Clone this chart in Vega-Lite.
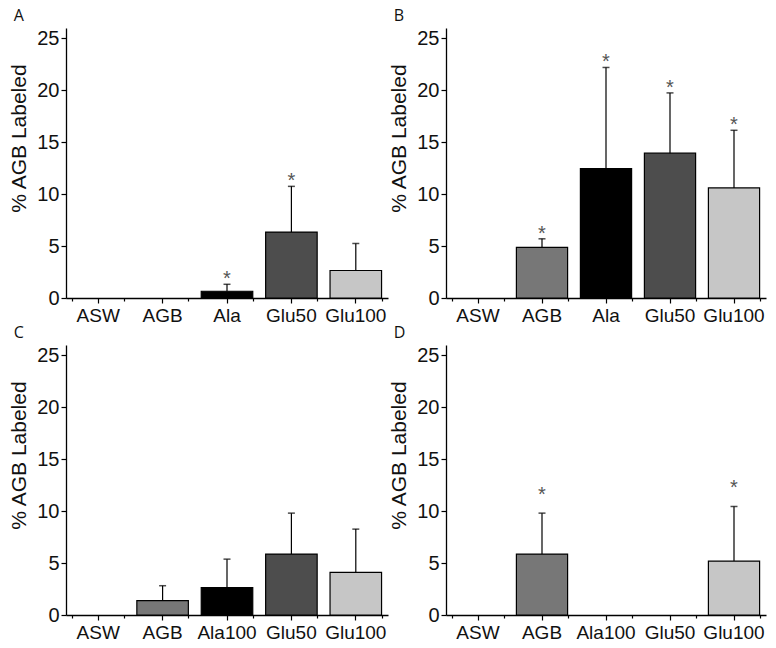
{
  "$schema": "https://vega.github.io/schema/vega-lite/v6.json",
  "background": "white",
  "padding": {"left": 8, "top": 8, "right": 4, "bottom": 2},
  "spacing": 0,
  "config": {
    "view": {"stroke": null},
    "font": "Liberation Sans",
    "axis": {"domainColor": "#000", "domainWidth": 1.3, "tickColor": "#000", "tickWidth": 1.2, "labelColor": "#111", "titleColor": "#111", "labelFont": "Liberation Sans", "titleFont": "Liberation Sans", "grid": false},
    "title": {"font": "Open Sans", "fontSize": 16, "fontWeight": "normal", "color": "#111", "anchor": "start", "frame": "bounds", "dx": 5}
  },
  "datasets": {
    "d": [
      {"panel": "A", "cond": "ASW", "value": 0, "err": null, "sig": false},
      {"panel": "A", "cond": "AGB", "value": 0, "err": null, "sig": false},
      {"panel": "A", "cond": "Ala", "value": 0.65, "err": 1.32, "sig": true},
      {"panel": "A", "cond": "Glu50", "value": 6.35, "err": 10.75, "sig": true},
      {"panel": "A", "cond": "Glu100", "value": 2.65, "err": 5.25, "sig": false},
      {"panel": "B", "cond": "ASW", "value": 0, "err": null, "sig": false},
      {"panel": "B", "cond": "AGB", "value": 4.87, "err": 5.7, "sig": true},
      {"panel": "B", "cond": "Ala", "value": 12.45, "err": 22.2, "sig": true},
      {"panel": "B", "cond": "Glu50", "value": 13.95, "err": 19.75, "sig": true},
      {"panel": "B", "cond": "Glu100", "value": 10.6, "err": 16.15, "sig": true},
      {"panel": "C", "cond": "ASW", "value": 0, "err": null, "sig": false},
      {"panel": "C", "cond": "AGB", "value": 1.38, "err": 2.82, "sig": false},
      {"panel": "C", "cond": "Ala100", "value": 2.63, "err": 5.38, "sig": false},
      {"panel": "C", "cond": "Glu50", "value": 5.87, "err": 9.81, "sig": false},
      {"panel": "C", "cond": "Glu100", "value": 4.1, "err": 8.27, "sig": false},
      {"panel": "D", "cond": "ASW", "value": 0, "err": null, "sig": false},
      {"panel": "D", "cond": "AGB", "value": 5.87, "err": 9.81, "sig": true},
      {"panel": "D", "cond": "Ala100", "value": 0, "err": null, "sig": false},
      {"panel": "D", "cond": "Glu50", "value": 0, "err": null, "sig": false},
      {"panel": "D", "cond": "Glu100", "value": 5.19, "err": 10.45, "sig": true}
    ]
  },
  "data": {"name": "d"},
  "resolve": {"scale": {"x": "independent"}},
  "vconcat": [
    {
      "spacing": 0,
      "resolve": {"scale": {"x": "independent"}},
      "hconcat": [
        {
          "width": 322, "height": 270,
          "title": {"text": "A"},
          "transform": [{"filter": "datum.panel === 'A'"}],
          "resolve": {"axis": {"x": "independent"}},
          "layer": [
            {"transform": [{"filter": "datum.value > 0"}],
             "mark": {"type": "bar", "stroke": "#000", "strokeWidth": 1.2},
             "encoding": {
               "x": {"field": "cond", "type": "nominal", "sort": null, "title": null,
                 "scale": {"domain": ["ASW", "AGB", "Ala", "Glu50", "Glu100"], "paddingInner": 0.2, "paddingOuter": 0.1},
                 "axis": {"orient": "bottom", "labelAngle": 0, "labelFontSize": 19, "tickSize": 5, "labelPadding": 3}},
               "y": {"field": "value", "type": "quantitative", "scale": {"domain": [0, 25]},
               "title": "% AGB Labeled",
               "axis": {"values": [0, 2.5, 5, 7.5, 10, 12.5, 15, 17.5, 20, 22.5, 25], "labelExpr": "datum.value % 5 === 0 ? datum.label : ''",
                 "tickSize": {"condition": {"test": "datum.value % 5 === 0", "value": 5}, "value": 3},
                 "labelFontSize": 20, "labelPadding": 2, "titleFontSize": 21, "titleFontWeight": "normal", "titlePadding": 7, "titleY": 110}},
               "color": {"field": "cond", "type": "nominal", "legend": null,
                 "scale": {"domain": ["ASW", "AGB", "Ala", "Ala100", "Glu50", "Glu100"], "range": ["#ffffff", "#777777", "#000000", "#000000", "#4d4d4d", "#c6c6c6"]}}}},
            {"mark": {"type": "rule", "color": "#000", "strokeWidth": 1.2},
             "encoding": {
               "x": {"field": "cond", "type": "nominal", "sort": null, "title": null,
                 "axis": {"orient": "bottom", "labels": false, "domain": false, "tickBand": "extent", "tickSize": 3}},
               "y": {"field": "value", "type": "quantitative"}, "y2": {"field": "err"}}},
            {"mark": {"type": "tick", "color": "#000", "size": 7, "thickness": 1.5},
             "encoding": {"x": {"field": "cond", "type": "nominal", "sort": null, "axis": null},
               "y": {"field": "err", "type": "quantitative"}}},
            {"transform": [{"filter": "datum.sig"}],
             "mark": {"type": "text", "text": "*", "fontSize": 20, "color": "#555", "baseline": "alphabetic", "dy": 1},
             "encoding": {"x": {"field": "cond", "type": "nominal", "sort": null, "axis": null},
               "y": {"field": "err", "type": "quantitative"}}}
          ]
        },
        {
          "width": 320, "height": 270,
          "title": {"text": "B"},
          "transform": [{"filter": "datum.panel === 'B'"}],
          "resolve": {"axis": {"x": "independent"}},
          "layer": [
            {"transform": [{"filter": "datum.value > 0"}],
             "mark": {"type": "bar", "stroke": "#000", "strokeWidth": 1.2},
             "encoding": {
               "x": {"field": "cond", "type": "nominal", "sort": null, "title": null,
                 "scale": {"domain": ["ASW", "AGB", "Ala", "Glu50", "Glu100"], "paddingInner": 0.2, "paddingOuter": 0.1},
                 "axis": {"orient": "bottom", "labelAngle": 0, "labelFontSize": 19, "tickSize": 5, "labelPadding": 3}},
               "y": {"field": "value", "type": "quantitative", "scale": {"domain": [0, 25]},
               "title": "% AGB Labeled",
               "axis": {"values": [0, 2.5, 5, 7.5, 10, 12.5, 15, 17.5, 20, 22.5, 25], "labelExpr": "datum.value % 5 === 0 ? datum.label : ''",
                 "tickSize": {"condition": {"test": "datum.value % 5 === 0", "value": 5}, "value": 3},
                 "labelFontSize": 20, "labelPadding": 2, "titleFontSize": 21, "titleFontWeight": "normal", "titlePadding": 7, "titleY": 110}},
               "color": {"field": "cond", "type": "nominal", "legend": null,
                 "scale": {"domain": ["ASW", "AGB", "Ala", "Ala100", "Glu50", "Glu100"], "range": ["#ffffff", "#777777", "#000000", "#000000", "#4d4d4d", "#c6c6c6"]}}}},
            {"mark": {"type": "rule", "color": "#000", "strokeWidth": 1.2},
             "encoding": {
               "x": {"field": "cond", "type": "nominal", "sort": null, "title": null,
                 "axis": {"orient": "bottom", "labels": false, "domain": false, "tickBand": "extent", "tickSize": 3}},
               "y": {"field": "value", "type": "quantitative"}, "y2": {"field": "err"}}},
            {"mark": {"type": "tick", "color": "#000", "size": 7, "thickness": 1.5},
             "encoding": {"x": {"field": "cond", "type": "nominal", "sort": null, "axis": null},
               "y": {"field": "err", "type": "quantitative"}}},
            {"transform": [{"filter": "datum.sig"}],
             "mark": {"type": "text", "text": "*", "fontSize": 20, "color": "#555", "baseline": "alphabetic", "dy": 1},
             "encoding": {"x": {"field": "cond", "type": "nominal", "sort": null, "axis": null},
               "y": {"field": "err", "type": "quantitative"}}}
          ]
        }
      ]
    },
    {
      "spacing": 0,
      "resolve": {"scale": {"x": "independent"}},
      "hconcat": [
        {
          "width": 322, "height": 270,
          "title": {"text": "C"},
          "transform": [{"filter": "datum.panel === 'C'"}],
          "resolve": {"axis": {"x": "independent"}},
          "layer": [
            {"transform": [{"filter": "datum.value > 0"}],
             "mark": {"type": "bar", "stroke": "#000", "strokeWidth": 1.2},
             "encoding": {
               "x": {"field": "cond", "type": "nominal", "sort": null, "title": null,
                 "scale": {"domain": ["ASW", "AGB", "Ala100", "Glu50", "Glu100"], "paddingInner": 0.2, "paddingOuter": 0.1},
                 "axis": {"orient": "bottom", "labelAngle": 0, "labelFontSize": 19, "tickSize": 5, "labelPadding": 3}},
               "y": {"field": "value", "type": "quantitative", "scale": {"domain": [0, 25]},
               "title": "% AGB Labeled",
               "axis": {"values": [0, 2.5, 5, 7.5, 10, 12.5, 15, 17.5, 20, 22.5, 25], "labelExpr": "datum.value % 5 === 0 ? datum.label : ''",
                 "tickSize": {"condition": {"test": "datum.value % 5 === 0", "value": 5}, "value": 3},
                 "labelFontSize": 20, "labelPadding": 2, "titleFontSize": 21, "titleFontWeight": "normal", "titlePadding": 7, "titleY": 110}},
               "color": {"field": "cond", "type": "nominal", "legend": null,
                 "scale": {"domain": ["ASW", "AGB", "Ala", "Ala100", "Glu50", "Glu100"], "range": ["#ffffff", "#777777", "#000000", "#000000", "#4d4d4d", "#c6c6c6"]}}}},
            {"mark": {"type": "rule", "color": "#000", "strokeWidth": 1.2},
             "encoding": {
               "x": {"field": "cond", "type": "nominal", "sort": null, "title": null,
                 "axis": {"orient": "bottom", "labels": false, "domain": false, "tickBand": "extent", "tickSize": 3}},
               "y": {"field": "value", "type": "quantitative"}, "y2": {"field": "err"}}},
            {"mark": {"type": "tick", "color": "#000", "size": 7, "thickness": 1.5},
             "encoding": {"x": {"field": "cond", "type": "nominal", "sort": null, "axis": null},
               "y": {"field": "err", "type": "quantitative"}}}
          ]
        },
        {
          "width": 320, "height": 270,
          "title": {"text": "D"},
          "transform": [{"filter": "datum.panel === 'D'"}],
          "resolve": {"axis": {"x": "independent"}},
          "layer": [
            {"transform": [{"filter": "datum.value > 0"}],
             "mark": {"type": "bar", "stroke": "#000", "strokeWidth": 1.2},
             "encoding": {
               "x": {"field": "cond", "type": "nominal", "sort": null, "title": null,
                 "scale": {"domain": ["ASW", "AGB", "Ala100", "Glu50", "Glu100"], "paddingInner": 0.2, "paddingOuter": 0.1},
                 "axis": {"orient": "bottom", "labelAngle": 0, "labelFontSize": 19, "tickSize": 5, "labelPadding": 3}},
               "y": {"field": "value", "type": "quantitative", "scale": {"domain": [0, 25]},
               "title": "% AGB Labeled",
               "axis": {"values": [0, 2.5, 5, 7.5, 10, 12.5, 15, 17.5, 20, 22.5, 25], "labelExpr": "datum.value % 5 === 0 ? datum.label : ''",
                 "tickSize": {"condition": {"test": "datum.value % 5 === 0", "value": 5}, "value": 3},
                 "labelFontSize": 20, "labelPadding": 2, "titleFontSize": 21, "titleFontWeight": "normal", "titlePadding": 7, "titleY": 110}},
               "color": {"field": "cond", "type": "nominal", "legend": null,
                 "scale": {"domain": ["ASW", "AGB", "Ala", "Ala100", "Glu50", "Glu100"], "range": ["#ffffff", "#777777", "#000000", "#000000", "#4d4d4d", "#c6c6c6"]}}}},
            {"mark": {"type": "rule", "color": "#000", "strokeWidth": 1.2},
             "encoding": {
               "x": {"field": "cond", "type": "nominal", "sort": null, "title": null,
                 "axis": {"orient": "bottom", "labels": false, "domain": false, "tickBand": "extent", "tickSize": 3}},
               "y": {"field": "value", "type": "quantitative"}, "y2": {"field": "err"}}},
            {"mark": {"type": "tick", "color": "#000", "size": 7, "thickness": 1.5},
             "encoding": {"x": {"field": "cond", "type": "nominal", "sort": null, "axis": null},
               "y": {"field": "err", "type": "quantitative"}}},
            {"transform": [{"filter": "datum.sig"}],
             "mark": {"type": "text", "text": "*", "fontSize": 20, "color": "#555", "baseline": "alphabetic", "dy": -12},
             "encoding": {"x": {"field": "cond", "type": "nominal", "sort": null, "axis": null},
               "y": {"field": "err", "type": "quantitative"}}}
          ]
        }
      ]
    }
  ]
}
